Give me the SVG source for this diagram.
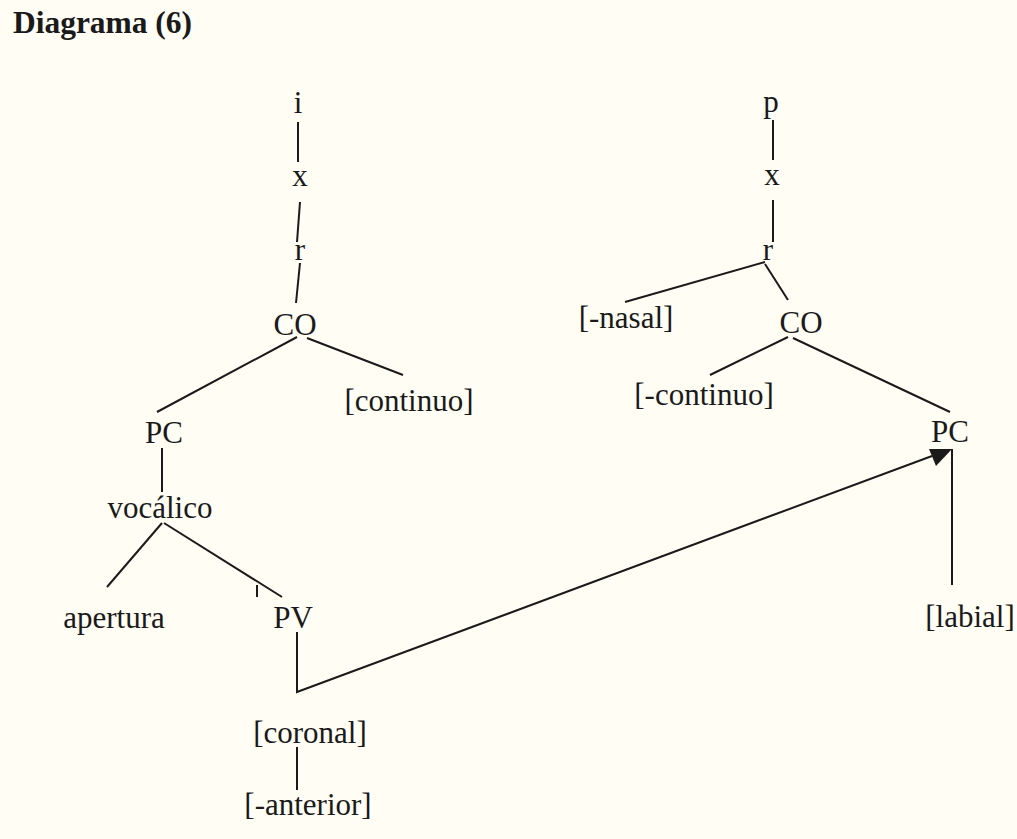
<svg xmlns="http://www.w3.org/2000/svg" width="1017" height="839" viewBox="0 0 1017 839">
<style>
text{font-family:"Liberation Serif","Times New Roman",serif;font-size:31px;fill:#1a1a1a;text-anchor:middle}
.title{font-weight:bold;font-size:31px;text-anchor:start}
.c line,.c polyline{stroke:#1a1a1a;stroke-width:2;fill:none}
</style>
<defs>
<marker id="ah" viewBox="0 0 10 10" refX="10" refY="5" markerWidth="10" markerHeight="8" markerUnits="userSpaceOnUse" orient="auto">
<path d="M0,0 L10,5 L0,10 z" fill="#1a1a1a"/>
</marker>
</defs>
<rect width="1017" height="839" fill="#fffdf4"/>
<text class="title" x="13" y="33" textLength="179" lengthAdjust="spacingAndGlyphs">Diagrama (6)</text>
<g class="c" id="connectors">
<line x1="298" y1="122" x2="298" y2="162"/>
<line x1="300" y1="202" x2="297" y2="242"/>
<line x1="300" y1="263" x2="296" y2="303"/>
<line x1="297" y1="337" x2="157" y2="412"/>
<line x1="307" y1="338" x2="403" y2="375"/>
<line x1="162" y1="448" x2="162" y2="492"/>
<line x1="162" y1="523" x2="107" y2="587"/>
<line x1="164" y1="523" x2="282" y2="597"/>
<line x1="257" y1="585" x2="257" y2="597"/>
<polyline points="297,632 297,692 932,456"/>
<line x1="297" y1="747" x2="297" y2="790"/>
<line x1="773" y1="120" x2="773" y2="160"/>
<line x1="773" y1="200" x2="773" y2="242"/>
<line x1="765" y1="262" x2="625" y2="302"/>
<line x1="765" y1="264" x2="788" y2="300"/>
<line x1="788" y1="337" x2="710" y2="375"/>
<line x1="793" y1="338" x2="950" y2="412"/>
<line x1="952" y1="449" x2="952" y2="585"/>
<polygon points="952,449 929,449 936,466" fill="#1a1a1a" stroke="none"/>
</g>
<g id="n-i"><text x="298" y="113">i</text></g>
<g id="n-x1"><text x="300" y="186">x</text></g>
<g id="n-r1"><text x="300" y="260">r</text></g>
<g id="n-co1"><text x="295" y="335">CO</text></g>
<g id="n-continuo"><text x="409" y="411">[continuo]</text></g>
<g id="n-pc1"><text x="164" y="443">PC</text></g>
<g id="n-vocalico"><text x="160" y="518">vocálico</text></g>
<g id="n-apertura"><text x="114" y="628">apertura</text></g>
<g id="n-pv"><text x="293" y="628">PV</text></g>
<g id="n-coronal"><text x="310" y="743">[coronal]</text></g>
<g id="n-anterior"><text x="308" y="815">[-anterior]</text></g>
<g id="n-p"><text x="771" y="112">p</text></g>
<g id="n-x2"><text x="772" y="185">x</text></g>
<g id="n-r2"><text x="768" y="260">r</text></g>
<g id="n-nasal"><text x="626" y="328">[-nasal]</text></g>
<g id="n-co2"><text x="801" y="333">CO</text></g>
<g id="n-mcontinuo"><text x="704" y="405">[-continuo]</text></g>
<g id="n-pc2"><text x="950" y="442">PC</text></g>
<g id="n-labial"><text x="970" y="627">[labial]</text></g>
</svg>
